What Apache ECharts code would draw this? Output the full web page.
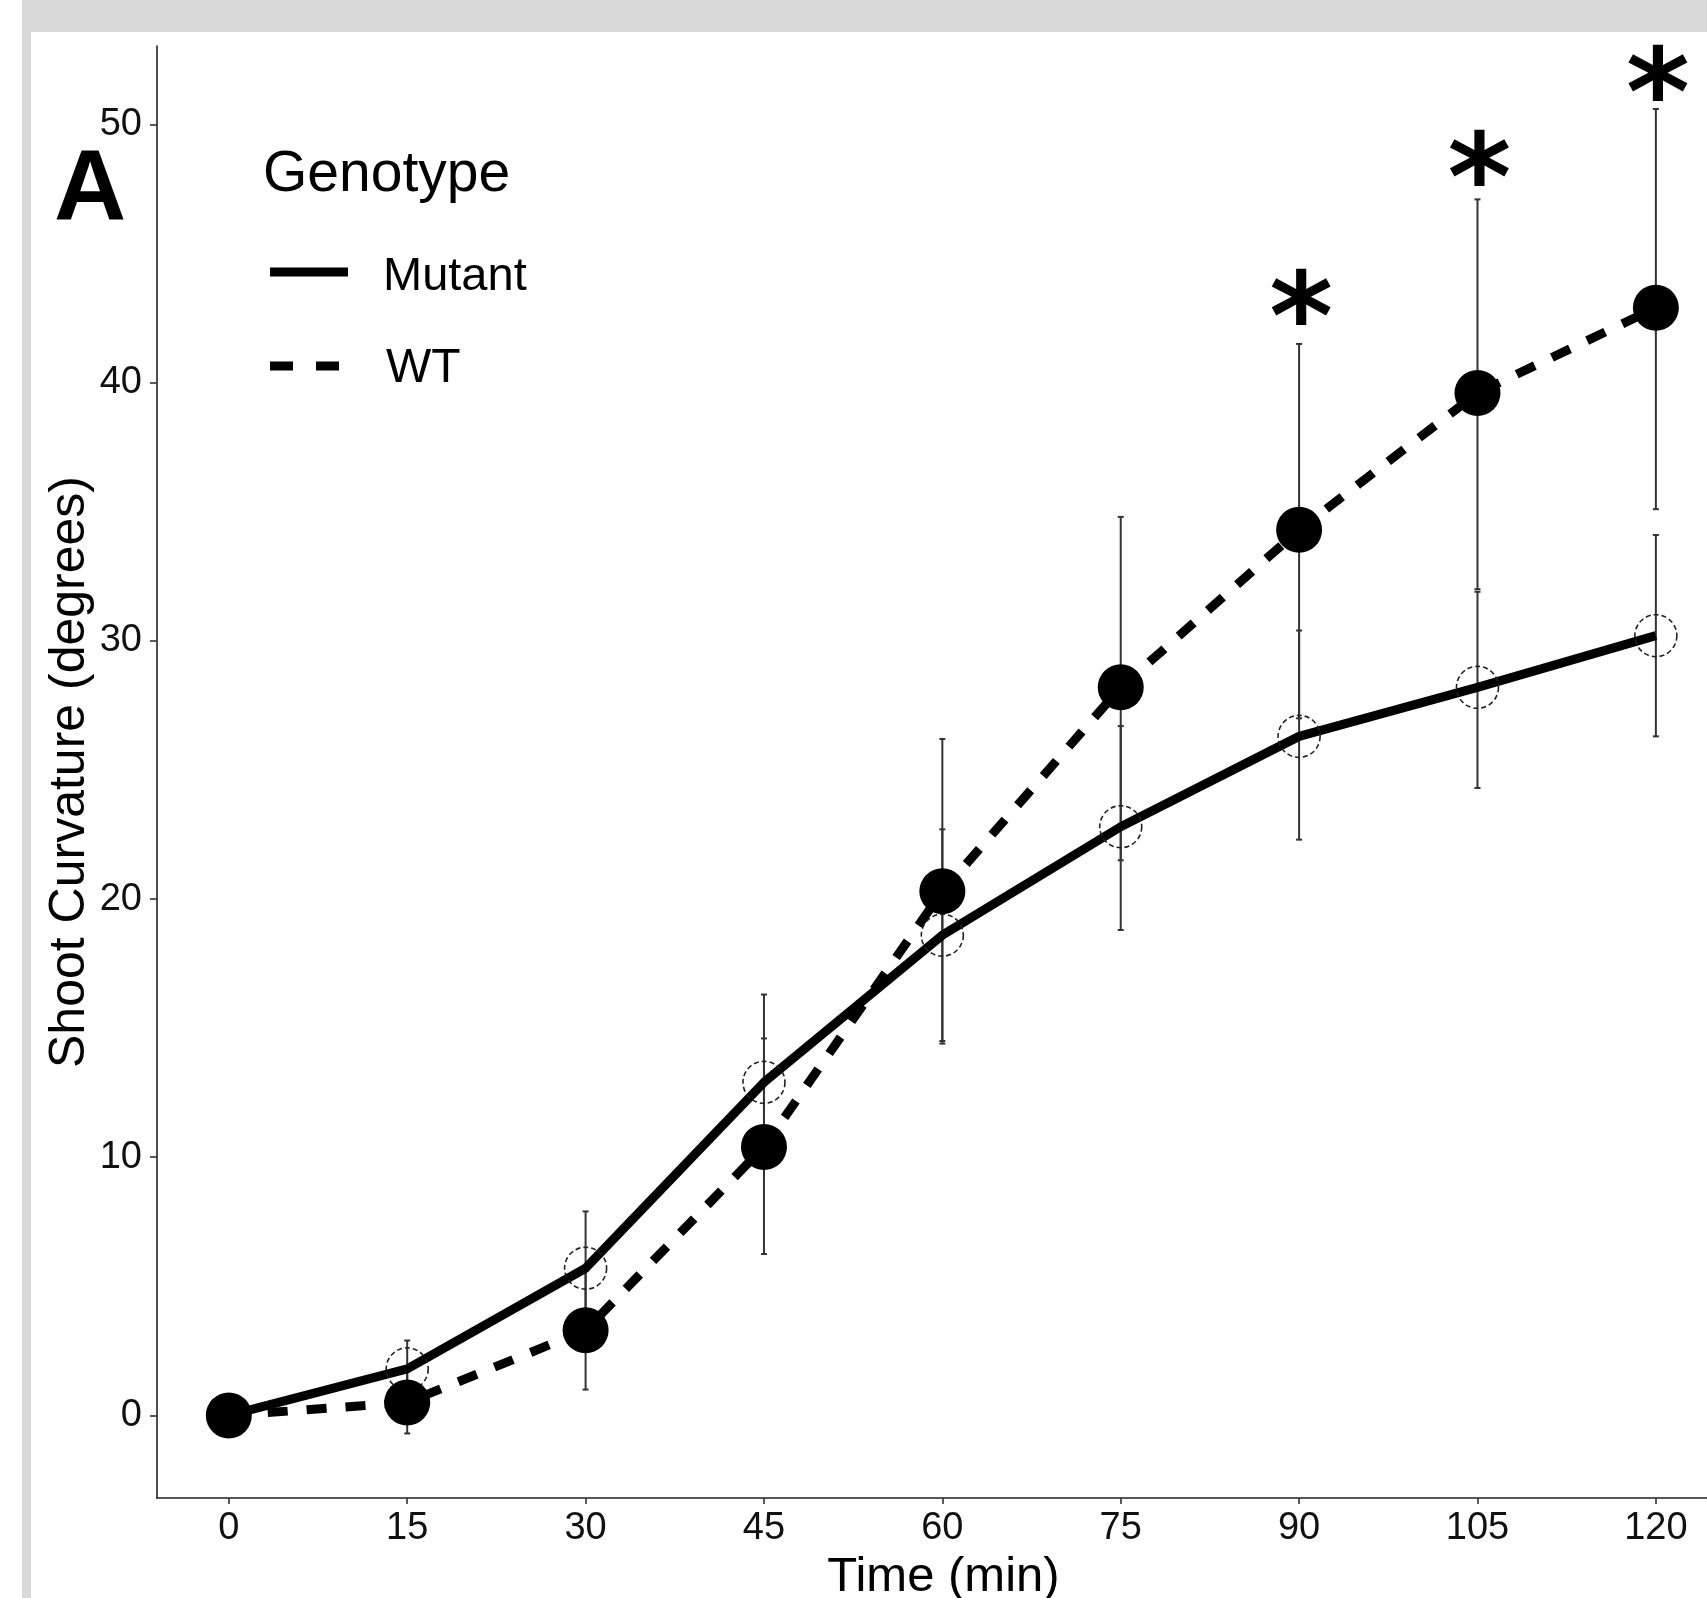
<!DOCTYPE html>
<html><head><meta charset="utf-8">
<script src="https://cdn.jsdelivr.net/npm/echarts@6/dist/echarts.min.js"></script>
<style>html,body{margin:0;padding:0;background:#fff}#c{width:1707px;height:1598px}</style>
</head><body><div id="c"></div>
<script>
// ---- data ----
const times = [0, 15, 30, 45, 60, 75, 90, 105, 120];
const mutantMean  = [0, 1.8, 5.7, 12.9, 18.6, 22.8, 26.3, 28.2, 30.2];
const mutantLower = [0, 0.7, 3.55, 9.6, 14.5, 18.8, 22.3, 24.3, 26.3];
const mutantUpper = [0, 2.9, 7.9, 16.3, 22.7, 26.7, 30.4, 31.9, 34.1];
const wtMean  = [0, 0.5, 3.3, 10.4, 20.3, 28.2, 34.3, 39.6, 42.9];
const wtLower = [0, -0.7, 1.0, 6.25, 14.4, 21.5, 27.0, 32.0, 35.1];
const wtUpper = [0, 1.8, 5.6, 14.6, 26.2, 34.8, 41.5, 47.1, 50.6];
const xTicks = [0, 15, 30, 45, 60, 75, 90, 105, 120];
const yTicks = [0, 10, 20, 30, 40, 50];
const sigTimes = [90, 105, 120];
const sigY = [43.3, 48.7, 52.0];
const seriesNames = ['Mutant', 'WT'];
const legendTitle = 'Genotype';
const panelLabel = 'A';

const FONT = "'Liberation Sans', Arial, sans-serif";
const zip = (a, b) => a.map((v, i) => [v, b[i]]);
const errData = (lo, hi) => times.map((t, i) => [t, lo[i], hi[i]]);

function renderErr(params, api) {
  const x = api.value(0), lo = api.value(1), hi = api.value(2);
  if (lo === hi) return null;
  const p1 = api.coord([x, hi]), p2 = api.coord([x, lo]);
  const w = 3, st = { stroke: '#333', lineWidth: 2 };
  return { type: 'group', children: [
    { type: 'line', shape: { x1: p1[0], y1: p1[1], x2: p2[0], y2: p2[1] }, style: st },
    { type: 'line', shape: { x1: p1[0] - w, y1: p1[1], x2: p1[0] + w, y2: p1[1] }, style: st },
    { type: 'line', shape: { x1: p2[0] - w, y1: p2[1], x2: p2[0] + w, y2: p2[1] }, style: st }
  ]};
}

const chart = echarts.init(document.getElementById('c'), null, { renderer: 'canvas' });
const option = {
  backgroundColor: '#ffffff',
  animation: false,
  textStyle: { fontFamily: FONT },
  grid: { left: 157, right: 0, top: 46, bottom: 100, containLabel: false, outerBoundsMode: 'none' },
  xAxis: {
    type: 'value', min: -6.04, max: 124.3,
    name: 'Time (min)', nameLocation: 'middle', nameGap: 55,
    nameTextStyle: { fontSize: 49, color: '#000', fontFamily: FONT, padding: [0, 0, 0, 23] },
    axisLine: { show: true, onZero: false, lineStyle: { color: '#222', width: 1.6 } },
    axisTick: { show: true, customValues: xTicks, length: 6, lineStyle: { color: '#333', width: 1.6 } },
    axisLabel: { customValues: xTicks, margin: 12, fontSize: 38, color: '#111', fontFamily: FONT },
    splitLine: { show: false }
  },
  yAxis: {
    type: 'value', min: -3.2, max: 53.04,
    name: 'Shoot Curvature (degrees)', nameLocation: 'middle', nameGap: 62, nameMoveOverlap: false,
    nameTextStyle: { fontSize: 50, color: '#000', fontFamily: FONT },
    axisLine: { show: true, onZero: false, lineStyle: { color: '#222', width: 1.6 } },
    axisTick: { show: true, customValues: yTicks, length: 7, lineStyle: { color: '#333', width: 1.6 } },
    axisLabel: { customValues: yTicks, margin: 15, fontSize: 38, color: '#111', fontFamily: FONT },
    splitLine: { show: false }
  },
  graphic: [
    { type: 'rect', shape: { x: 22, y: 0, width: 1685, height: 32 }, style: { fill: '#d9d9d9' }, silent: true },
    { type: 'rect', shape: { x: 22, y: 0, width: 9, height: 1598 }, style: { fill: '#d9d9d9' }, silent: true },
    { type: 'text', x: 54, y: 142, style: { text: panelLabel, font: "bold 100px " + FONT, fill: '#000', textAlign: 'left', textVerticalAlign: 'top' } },
    { type: 'text', x: 263, y: 175, style: { text: legendTitle, font: "57px " + FONT, fill: '#000', textAlign: 'left', textVerticalAlign: 'middle' } },
    { type: 'line', shape: { x1: 270, y1: 272, x2: 348, y2: 272 }, style: { stroke: '#000', lineWidth: 9 } },
    { type: 'text', x: 383, y: 277, style: { text: seriesNames[0], font: "47px " + FONT, fill: '#000', textAlign: 'left', textVerticalAlign: 'middle' } },
    { type: 'line', shape: { x1: 270, y1: 366, x2: 340, y2: 366 }, style: { stroke: '#000', lineWidth: 9, lineDash: [23, 23] } },
    { type: 'text', x: 386, y: 369, style: { text: seriesNames[1], font: "48px " + FONT, fill: '#000', textAlign: 'left', textVerticalAlign: 'middle' } }
  ],
  series: [
    { name: 'err-' + seriesNames[1], type: 'custom', data: errData(wtLower, wtUpper), renderItem: renderErr, encode: { x: 0, y: [1, 2] }, z: 1 },
    { name: 'err-' + seriesNames[0], type: 'custom', data: errData(mutantLower, mutantUpper), renderItem: renderErr, encode: { x: 0, y: [1, 2] }, z: 1 },
    { name: seriesNames[1], type: 'line', data: zip(times, wtMean), symbol: 'none', z: 2,
      lineStyle: { color: '#000', width: 9, type: [20, 19], cap: 'butt', join: 'round' } },
    { name: seriesNames[0], type: 'line', data: zip(times, mutantMean), symbol: 'none', z: 3,
      lineStyle: { color: '#000', width: 9, type: 'solid', cap: 'butt', join: 'round' } },
    { name: seriesNames[0] + ' points', type: 'scatter', data: zip(times, mutantMean), symbol: 'circle', symbolSize: 42, z: 4,
      itemStyle: { color: 'rgba(0,0,0,0)', borderColor: '#222', borderWidth: 1.6, borderType: [5, 3], opacity: 1 } },
    { name: seriesNames[1] + ' points', type: 'scatter', data: zip(times, wtMean), symbol: 'circle', symbolSize: 46, z: 5,
      itemStyle: { color: '#000', opacity: 1 } },
    { name: 'significance', type: 'scatter', data: zip(sigTimes, sigY), symbolSize: 1, z: 6,
      itemStyle: { color: 'rgba(0,0,0,0)', opacity: 1 },
      label: { show: true, formatter: '*', position: 'inside', fontSize: 122, fontWeight: 'bold', color: '#000', fontFamily: "'DejaVu Sans', sans-serif", offset: [2, 30] } }
  ]
};
chart.setOption(option);
</script>
</body></html>
